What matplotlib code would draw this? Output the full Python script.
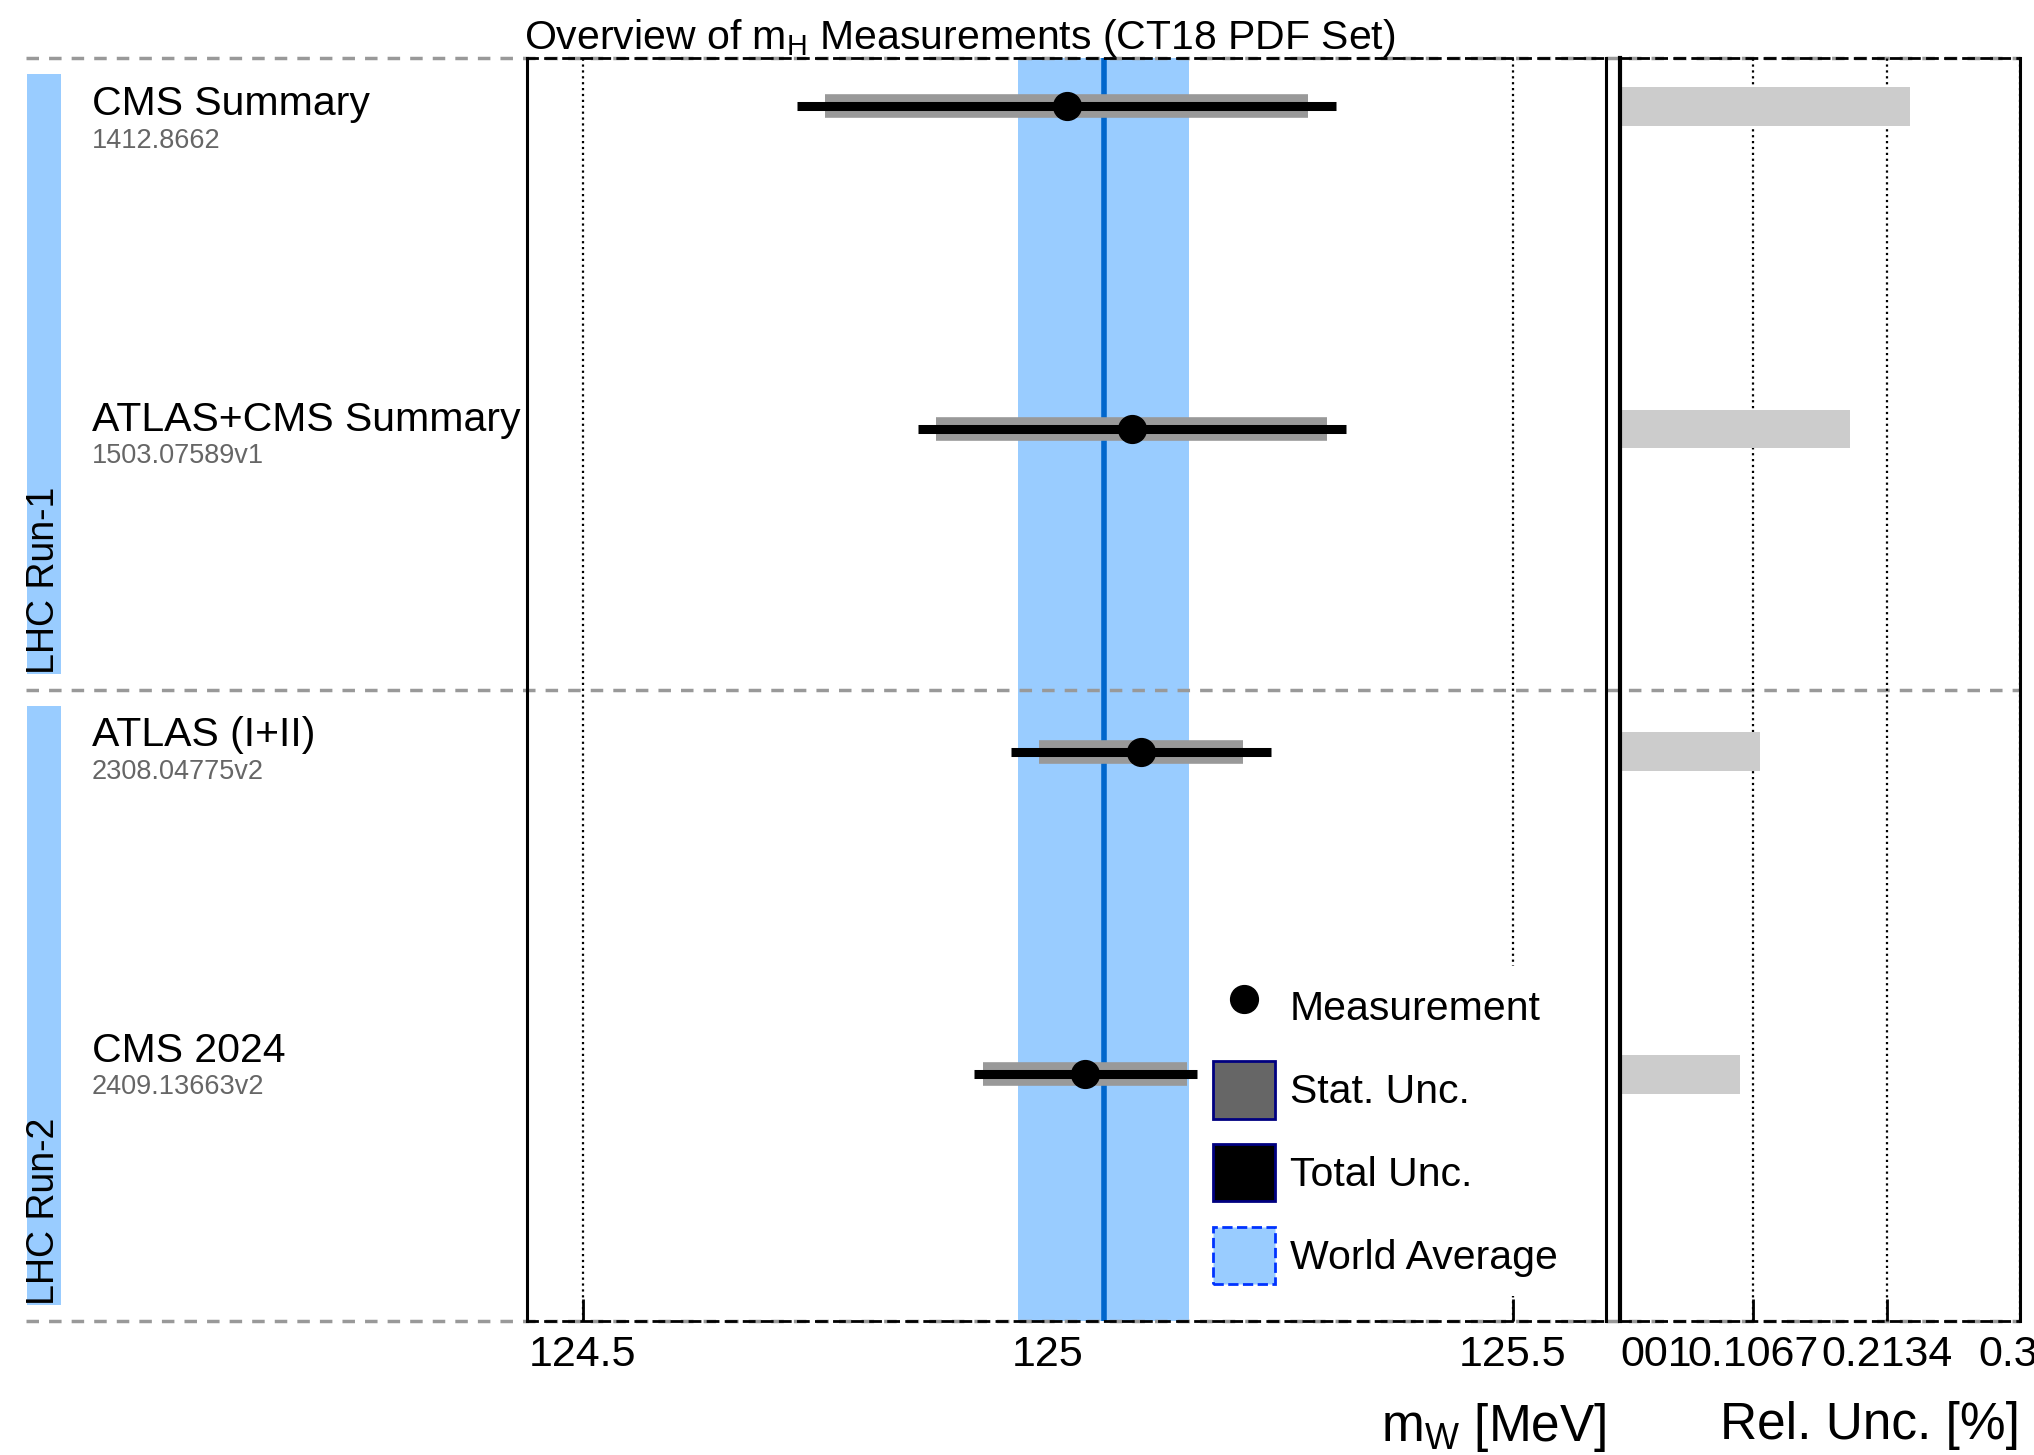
import matplotlib
matplotlib.use('Agg')
from matplotlib import pyplot as plt
import matplotlib.transforms as mtransforms
from matplotlib.patches import Rectangle, Patch
from matplotlib.lines import Line2D
import numpy as np

plt.rcParams['font.family'] = ['Liberation Sans', 'DejaVu Sans']
plt.rcParams['mathtext.fontset'] = 'custom'
plt.rcParams['mathtext.rm'] = 'Liberation Sans'
plt.rcParams['mathtext.it'] = 'Liberation Sans:italic'

# measurements (top to bottom)
names = ["CMS Summary", "ATLAS+CMS Summary", "ATLAS (I+II)", "CMS 2024"]
arxiv = ["1412.8662", "1503.07589v1", "2308.04775v2", "2409.13663v2"]
values = [125.02, 125.09, 125.10, 125.04]
stat_unc = [0.26, 0.21, 0.11, 0.11]
total_unc = [0.29, 0.23, 0.14, 0.12]

groups = ["LHC Run-1", "LHC Run-2"]
group_rows = [[0, 1], [2, 3]]

wa_value = 125.06
wa_unc = 0.092

rel_ticks = [0.0, 0.1067, 0.2134, 0.3201]
rel_ticklabels = ["001", "0.1067", "0.2134", "0.32"]
mass_ticks = [124.5, 125.0, 125.5]

rows = np.arange(len(names))
values = np.array(values)
stat_unc = np.array(stat_unc)
total_unc = np.array(total_unc)
rel_unc = total_unc / values * 100

# group boundaries in row units
bounds = [-0.15, 1.81, 3.765]

fig = plt.figure(figsize=(20.34, 14.55), dpi=100)
ax = fig.add_axes([0.2591, 0.0921, 0.5305, 0.8680])
ax2 = fig.add_axes([0.7965, 0.0921, 0.1967, 0.8680])
ax2.patch.set_facecolor('none')

# world average band
ax.axvspan(wa_value - wa_unc, wa_value + wa_unc, color='#99ccff', lw=0, zorder=1)
ax.axvline(wa_value, color='#0066cc', lw=4, zorder=2)

# uncertainties
ax.hlines(rows, values - stat_unc, values + stat_unc, color='#999999', lw=17, zorder=3)
ax.hlines(rows, values - total_unc, values + total_unc, color='black', lw=6.5, zorder=4)
ax.plot(values, rows, 'o', color='black', ms=20, zorder=5)

ax.set_xlim(124.44, 125.60)
ax.set_ylim(bounds[-1], bounds[0])
ax.set_xticks(mass_ticks)
ax.set_xticklabels(["124.5", "125", "125.5"])
ax.set_yticks([])
ax.set_axisbelow(True)
ax.grid(axis='x', color='black', ls=':', lw=1.6)
ax.tick_params(axis='x', direction='in', length=16, width=2, labelsize=31, pad=10)
ax.set_xlabel(r'$\mathrm{m}_\mathrm{W}$ [MeV]', fontsize=37, loc='right', labelpad=19)

ax.text(-0.003, 1.0071, r'Overview of $\mathrm{m}_\mathrm{H}$ Measurements (CT18 PDF Set)',
        transform=ax.transAxes, ha='left', va='baseline', fontsize=29.5)

# relative uncertainty panel
ax2.barh(rows, rel_unc, height=0.12, color='#cccccc', zorder=2)
ax2.set_xlim(rel_ticks[0], rel_ticks[-1])
ax2.set_ylim(bounds[-1], bounds[0])
ax2.set_xticks(rel_ticks)
ax2.set_xticklabels(rel_ticklabels)
ax2.get_xticklabels()[0].set_horizontalalignment('left')
ax2.set_yticks([])
ax2.set_axisbelow(True)
ax2.grid(axis='x', color='black', ls=':', lw=1.6)
ax2.tick_params(axis='x', direction='in', length=16, width=2, labelsize=31, pad=10)
ax2.set_xlabel('Rel. Unc. [%]', fontsize=37, loc='right', labelpad=19)

for a in (ax, ax2):
    a.spines['left'].set_linewidth(2.2)
    a.spines['right'].set_linewidth(2.2)
    for s in ('top', 'bottom'):
        a.spines[s].set_linestyle((0, (3.6, 2.9)))
        a.spines[s].set_linewidth(2)
ax2.spines['left'].set_linewidth(3)

# left side labels
trans = mtransforms.blended_transform_factory(fig.transFigure, ax.transData)
for i, (n, a) in enumerate(zip(names, arxiv)):
    ylab = i * 0.978 + 0.028
    ax.text(0.0452, ylab, n, transform=trans, ha='left', va='baseline', fontsize=29.5)
    ax.text(0.0452, ylab + 0.1, a, transform=trans, ha='left', va='baseline', fontsize=19.5,
            color='#666666')

for g, label in enumerate(groups):
    y0 = bounds[g] + 0.05
    y1 = bounds[g + 1] - 0.05
    ax.add_patch(Rectangle((0.0135, y0), 0.0165, y1 - y0, transform=trans,
                           facecolor='#99ccff', lw=0, clip_on=False))
    ax.text(0.0218, y1, label, transform=trans, rotation=90, ha='center', va='bottom',
            fontsize=27)

for y in bounds:
    ax.add_line(Line2D([0.0128, 0.993], [y, y], transform=trans, color='#999999', lw=2.5,
                       ls=(0, (3.6, 2.9)), clip_on=False, zorder=1.5))

handles = [
    Line2D([], [], marker='o', color='black', ls='none', ms=20),
    Patch(facecolor='#666666', edgecolor='#000080', lw=2),
    Patch(facecolor='black', edgecolor='#000080', lw=2),
    Patch(facecolor='#99ccff', edgecolor='#0033ff', lw=2, ls='--'),
]
labels = ["Measurement", "Stat. Unc.", "Total Unc.", "World Average"]
leg = ax.legend(handles, labels, loc='lower left', bbox_to_anchor=(0.624, 0.0194),
                fontsize=29.5, handlelength=1.53, handleheight=1.78, labelspacing=0.62,
                handletextpad=0.35, borderpad=0.3, borderaxespad=0, frameon=True,
                fancybox=False, framealpha=1, facecolor='white', edgecolor='none')
leg.set_zorder(6)

fig.savefig('out.png', dpi=100)
